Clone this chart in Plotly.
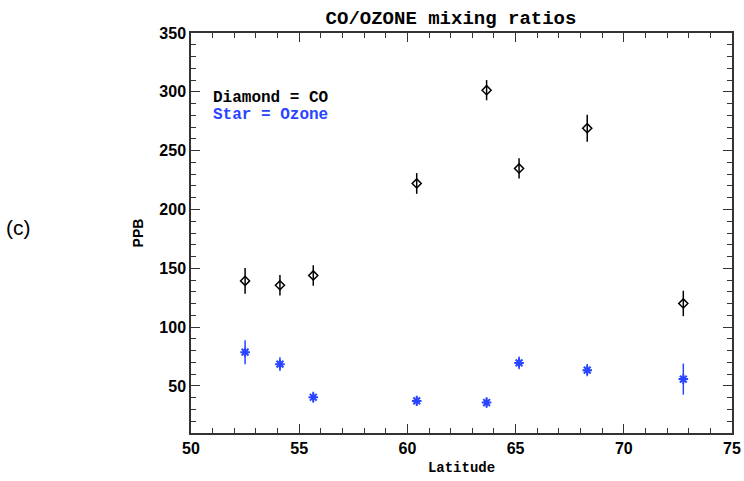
import plotly.graph_objects as go

latitude = [52.50, 54.11, 55.65, 60.43, 63.66, 65.16, 68.31, 72.75]
co_ppb = [139.3, 135.6, 143.9, 222.1, 301.4, 234.9, 269.1, 120.1]
co_err = [11.0, 8.8, 8.7, 8.8, 8.6, 8.6, 11.5, 10.8]
ozone_ppb = [78.7, 68.5, 40.4, 37.3, 35.9, 69.6, 63.4, 55.8]
ozone_err = [10.2, 5.8, 4.7, 4.4, 4.5, 5.4, 5.2, 13.2]

blue = "#2a45ff"
mono = "Liberation Mono"
sans = "Liberation Sans"

fig = go.Figure()
fig.add_trace(go.Scatter(
    x=latitude, y=co_ppb, mode="markers",
    error_y=dict(type="data", array=co_err, color="black", thickness=1.5, width=0),
    marker=dict(symbol="diamond-open", size=7, color="black", line=dict(width=1.5, color="black")),
    showlegend=False))
fig.add_trace(go.Scatter(
    x=latitude, y=ozone_ppb, mode="markers",
    error_y=dict(type="data", array=ozone_err, color=blue, thickness=1.5, width=0),
    marker=dict(symbol="asterisk-open", size=8, color=blue, line=dict(width=2, color=blue)),
    showlegend=False))

axis_common = dict(
    showgrid=False, zeroline=False, showline=True, linecolor="#333333", linewidth=1.5,
    mirror="allticks", ticks="inside", tickcolor="#333333", tickwidth=1.2, ticklen=9,
    tickfont=dict(family=sans, size=16, color="black", weight="bold"),
    automargin=False,
)
fig.update_xaxes(range=[50, 75], dtick=5, tick0=50,
                 minor=dict(ticks="inside", dtick=1, ticklen=5, tickcolor="#333333", tickwidth=1.2),
                 title=dict(text="<b>Latitude</b>", font=dict(family=mono, size=14, color="black"), standoff=6),
                 **axis_common)
fig.update_yaxes(range=[10, 350], dtick=50, tick0=0,
                 minor=dict(ticks="inside", dtick=10, ticklen=5, tickcolor="#333333", tickwidth=1.2),
                 title=dict(text="<b>PPB</b>", font=dict(family=sans, size=14, color="black"), standoff=12),
                 **axis_common)

fig.update_layout(
    width=744, height=481,
    margin=dict(l=191, r=12, t=33, b=48),
    plot_bgcolor="white", paper_bgcolor="white",
    title=dict(text="<b>CO/OZONE mixing ratios</b>", x=451/744, xanchor="center", y=1 - 17/481, yanchor="middle",
               font=dict(family=mono, size=19, color="black")),
    annotations=[
        dict(text="<b>Diamond = CO</b>", xref="paper", yref="paper", x=(211 - 191) / 541, y=(433 - 98) / 400,
             xanchor="left", yanchor="middle", showarrow=False,
             font=dict(family=mono, size=16, color="black")),
        dict(text="<b>Star = Ozone</b>", xref="paper", yref="paper", x=(211 - 191) / 541, y=(433 - 115) / 400,
             xanchor="left", yanchor="middle", showarrow=False,
             font=dict(family=mono, size=16, color=blue)),
        dict(text="(c)", xref="paper", yref="paper", x=(19 - 191) / 541, y=(433 - 227) / 400,
             xanchor="center", yanchor="middle", showarrow=False,
             font=dict(family=sans, size=21, color="black")),
    ],
)

fig.write_html("out.html")
